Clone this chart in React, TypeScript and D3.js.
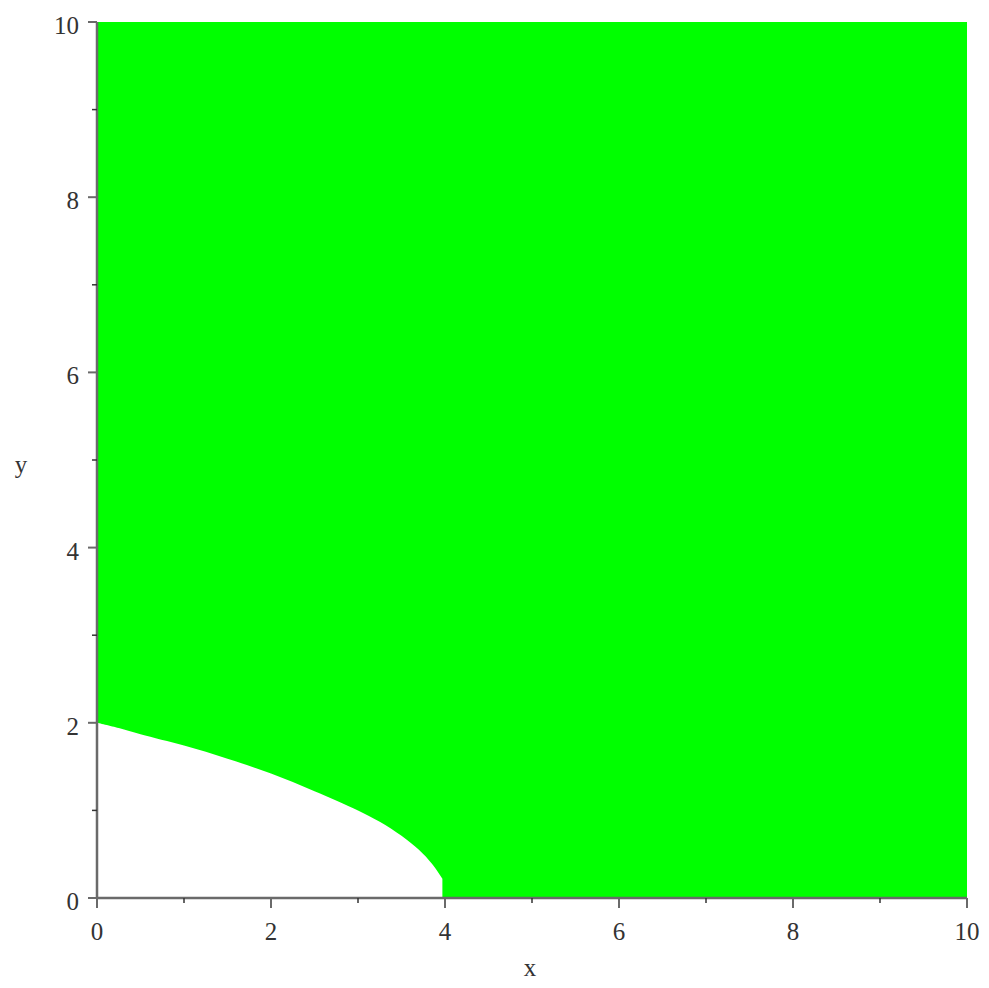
import React from "react";
import * as d3 from "d3";

// Curved edge of the unshaded region, from the y-axis to where it meets the x-axis
const boundaryX = [0, 0.25, 0.5, 1, 1.5, 2, 2.5, 3, 3.25, 3.5, 3.7, 3.85, 3.97];
const boundaryY = [2, 1.94, 1.87, 1.74, 1.59, 1.42, 1.22, 1.0, 0.87, 0.71, 0.55, 0.39, 0.22];
// The edge then drops straight to the x-axis at this x value
const dropX = 3.97;

const xDomain = [0, 10];
const yDomain = [0, 10];
const majorTicks = [0, 2, 4, 6, 8, 10];
const minorTicks = [1, 3, 5, 7, 9];

const W = 989;
const H = 988;
const left = 97;
const right = 967;
const top = 22;
const bottom = 898;

export default function App() {
  const x = d3.scaleLinear().domain(xDomain).range([left, right]);
  const y = d3.scaleLinear().domain(yDomain).range([bottom, top]);

  const pts: [number, number][] = boundaryX.map((bx, i) => [bx, boundaryY[i]]);
  const curve = d3
    .line<[number, number]>()
    .x((d) => x(d[0]))
    .y((d) => y(d[1]))
    .curve(d3.curveCatmullRom)(pts) as string;

  // shaded region: top-left corner, down to the curve, along it, then around the rest
  const regionPath =
    `M${x(xDomain[0])},${y(yDomain[1])}L` +
    curve.slice(1) +
    `L${x(dropX)},${y(yDomain[0])}` +
    `L${x(xDomain[1])},${y(yDomain[0])}` +
    `L${x(xDomain[1])},${y(yDomain[1])}Z`;

  const axisColor = "#6a6a6a";
  const font = "'Liberation Serif', 'Times New Roman', serif";
  const fs = 25;

  return (
    <svg
      width={W}
      height={H}
      style={{ position: "absolute", left: 0, top: 0, background: "#fff" }}
    >
      <path d={regionPath} fill="#00ff00" stroke="none" />
      {/* axes */}
      <line x1={x(0)} x2={x(10)} y1={y(0)} y2={y(0)} stroke={axisColor} strokeWidth={2.5} />
      <line x1={x(0)} x2={x(0)} y1={y(0)} y2={y(10)} stroke={axisColor} strokeWidth={2.5} />
      {/* x ticks */}
      {majorTicks.map((t) => (
        <g key={"xt" + t}>
          <line x1={x(t)} x2={x(t)} y1={y(0)} y2={y(0) + 10} stroke={axisColor} strokeWidth={2} />
          <text x={x(t)} y={y(0) + 42} textAnchor="middle" fontFamily={font} fontSize={fs} fill="#333">
            {t}
          </text>
        </g>
      ))}
      {minorTicks.map((t) => (
        <line key={"xm" + t} x1={x(t)} x2={x(t)} y1={y(0)} y2={y(0) + 5} stroke="#333" strokeWidth={1.5} />
      ))}
      {/* y ticks */}
      {majorTicks.map((t) => (
        <g key={"yt" + t}>
          <line x1={x(0) - 9} x2={x(0)} y1={y(t)} y2={y(t)} stroke={axisColor} strokeWidth={2} />
          <text x={x(0) - 18} y={y(t) + 12} textAnchor="end" fontFamily={font} fontSize={fs} fill="#333">
            {t}
          </text>
        </g>
      ))}
      {minorTicks.map((t) => (
        <line key={"ym" + t} x1={x(0) - 5} x2={x(0)} y1={y(t)} y2={y(t)} stroke="#333" strokeWidth={1.5} />
      ))}
      <text x={530} y={976} textAnchor="middle" fontFamily={font} fontSize={fs} fill="#333">
        x
      </text>
      <text x={21} y={473} textAnchor="middle" fontFamily={font} fontSize={fs} fill="#333">
        y
      </text>
    </svg>
  );
}
